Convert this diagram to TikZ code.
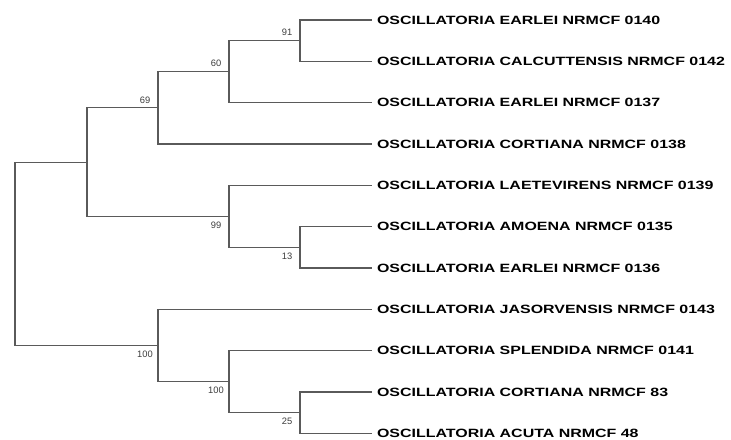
\documentclass[tikz,border=0pt]{standalone}
\usepackage{fontspec}
\setmainfont{Liberation Sans}
\newfontfamily\taxonfont[FakeStretch=1.33]{Liberation Sans}
\usepackage{tikz}
\usetikzlibrary{positioning,calc}
\definecolor{twig}{HTML}{5A5A5A}
\definecolor{boottext}{HTML}{3C3C3C}

\begin{document}
\begin{tikzpicture}[x=0.75pt,y=-0.75pt,
 taxon/.style={anchor=west,inner sep=3.6pt,
 font=\taxonfont\bfseries\fontsize{9}{10}\selectfont},
 boot/.style={inner sep=0pt,text=boottext,font=\fontsize{7}{8}\selectfont},
 branch/.style={draw=twig,line width=0.8pt}]
 \useasboundingbox (0,0) rectangle (731,439);
 % leaves
 \node[taxon] (l1) at (372,20.0) {OSCILLATORIA EARLEI NRMCF 0140};
 \node[taxon] (l2) at (372,61.3) {OSCILLATORIA CALCUTTENSIS NRMCF 0142};
 \node[taxon] (l3) at (372,102.7) {OSCILLATORIA EARLEI NRMCF 0137};
 \node[taxon] (l4) at (372,144.0) {OSCILLATORIA CORTIANA NRMCF 0138};
 \node[taxon] (l5) at (372,185.3) {OSCILLATORIA LAETEVIRENS NRMCF 0139};
 \node[taxon] (l6) at (372,226.7) {OSCILLATORIA AMOENA NRMCF 0135};
 \node[taxon] (l7) at (372,268.0) {OSCILLATORIA EARLEI NRMCF 0136};
 \node[taxon] (l8) at (372,309.3) {OSCILLATORIA JASORVENSIS NRMCF 0143};
 \node[taxon] (l9) at (372,350.7) {OSCILLATORIA SPLENDIDA NRMCF 0141};
 \node[taxon] (l10) at (372,392.0) {OSCILLATORIA CORTIANA NRMCF 83};
 \node[taxon] (l11) at (372,433.3) {OSCILLATORIA ACUTA NRMCF 48};
 % internal nodes
 \coordinate (n91) at (300,40.7);
 \coordinate (n60) at (229,71.7);
 \coordinate (n69) at (158,107.8);
 \coordinate (n13) at (300,247.3);
 \coordinate (n99) at (229,216.3);
 \coordinate (nup) at (87,162.1);
 \coordinate (n25) at (300,412.7);
 \coordinate (n100b) at (229,381.7);
 \coordinate (n100a) at (158,345.5);
 \coordinate (root) at (15,253.8);
 % branches
 \draw[branch] (n91) |- (l1.west);
 \draw[branch] (n91) |- (l2.west);
 \draw[branch] (n60) |- (n91);
 \draw[branch] (n60) |- (l3.west);
 \draw[branch] (n69) |- (n60);
 \draw[branch] (n69) |- (l4.west);
 \draw[branch] (n13) |- (l6.west);
 \draw[branch] (n13) |- (l7.west);
 \draw[branch] (n99) |- (l5.west);
 \draw[branch] (n99) |- (n13);
 \draw[branch] (nup) |- (n69);
 \draw[branch] (nup) |- (n99);
 \draw[branch] (n25) |- (l10.west);
 \draw[branch] (n25) |- (l11.west);
 \draw[branch] (n100b) |- (l9.west);
 \draw[branch] (n100b) |- (n25);
 \draw[branch] (n100a) |- (l8.west);
 \draw[branch] (n100a) |- (n100b);
 \draw[branch] (root) |- (nup);
 \draw[branch] (root) |- (n100a);
 % bootstrap values
 \node[boot] (b91) at ([shift={(-13,-8)}]n91) {91};
 \node[boot] (b60) at ([shift={(-13,-8)}]n60) {60};
 \node[boot] (b69) at ([shift={(-13,-8)}]n69) {69};
 \node[boot] (b99) at ([shift={(-13,9)}]n99) {99};
 \node[boot] (b13) at ([shift={(-13,9)}]n13) {13};
 \node[boot] (b100a) at ([shift={(-13,9)}]n100a) {100};
 \node[boot] (b100b) at ([shift={(-13,9)}]n100b) {100};
 \node[boot] (b25) at ([shift={(-13,9)}]n25) {25};
\end{tikzpicture}
\end{document}
